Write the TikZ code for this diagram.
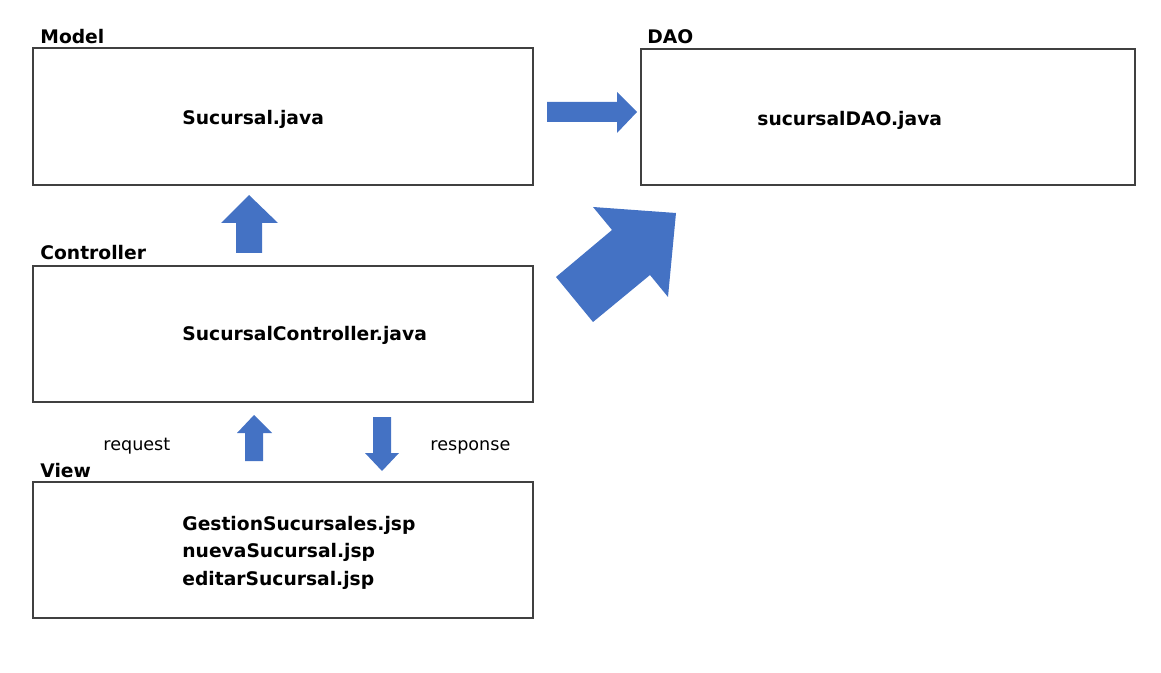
\documentclass[tikz,border=0pt]{standalone}
\usepackage{fontspec}
\setmainfont{DejaVu Sans}
\definecolor{arrowblue}{RGB}{68,114,196}
\definecolor{boxgray}{RGB}{64,64,64}
\begin{document}
\begin{tikzpicture}[x=0.5pt,y=-0.5pt,
   panel/.style={draw=boxgray,line width=1pt,inner sep=0pt},
   title/.style={anchor=base west,inner sep=0pt,font=\fontsize{9.35}{11}\selectfont\bfseries},
   file/.style={anchor=base west,inner sep=0pt,font=\fontsize{9.35}{11}\selectfont\bfseries},
   flow/.style={anchor=base west,inner sep=0pt,font=\fontsize{8.8}{10}\selectfont},
   blockarrow/.style={fill=arrowblue}]
   \useasboundingbox (0,0) rectangle (1161,673);
   %Model
   \node[panel,minimum width=250pt,minimum height=68.5pt] (model) at (283,116.5) {};
   \node[title] (modeltitle) at (40,44) {Model};
   \node[file] (sucursal) at (182,125) {Sucursal.java};
   %DAO
   \node[panel,minimum width=247pt,minimum height=68pt] (dao) at (888,117) {};
   \node[title] (daotitle) at (647,44) {DAO};
   \node[file] (sucursaldao) at (757,126) {sucursalDAO.java};
   %Controller
   \node[panel,minimum width=250pt,minimum height=68pt] (controller) at (283,334) {};
   \node[title] (controllertitle) at (40,260) {Controller};
   \node[file] (sucursalcontroller) at (182,341) {SucursalController.java};
   %View
   \node[panel,minimum width=250pt,minimum height=68pt] (view) at (283,550) {};
   \node[title] (viewtitle) at (40,477) {View};
   \node[file] (gestion) at (182,530) {GestionSucursales.jsp};
   \node[file] (nueva) at (182,557) {nuevaSucursal.jsp};
   \node[file] (editar) at (182,585) {editarSucursal.jsp};
   %request / response
   \node[flow] (request) at (103,450) {request};
   \node[flow] (response) at (430,450) {response};
   %arrows
   \fill[blockarrow] (547,102) -- (617,102) -- (617,92) -- (637,112) -- (617,133) -- (617,122) -- (547,122) -- cycle;
   \fill[blockarrow] (236,253) -- (236,223) -- (221,223) -- (249,195) -- (278,223) -- (262,223) -- (262,253) -- cycle;
   \fill[blockarrow] (676,213) -- (668,297) -- (650,275) -- (593,322) -- (556,277) -- (612,230) -- (593,207) -- cycle;
   \fill[blockarrow] (245,461) -- (245,433) -- (237,433) -- (254,415) -- (272,433) -- (263,433) -- (263,461) -- cycle;
   \fill[blockarrow] (373,417) -- (391,417) -- (391,453) -- (399,453) -- (382,471) -- (365,453) -- (373,453) -- cycle;
\end{tikzpicture}
\end{document}
